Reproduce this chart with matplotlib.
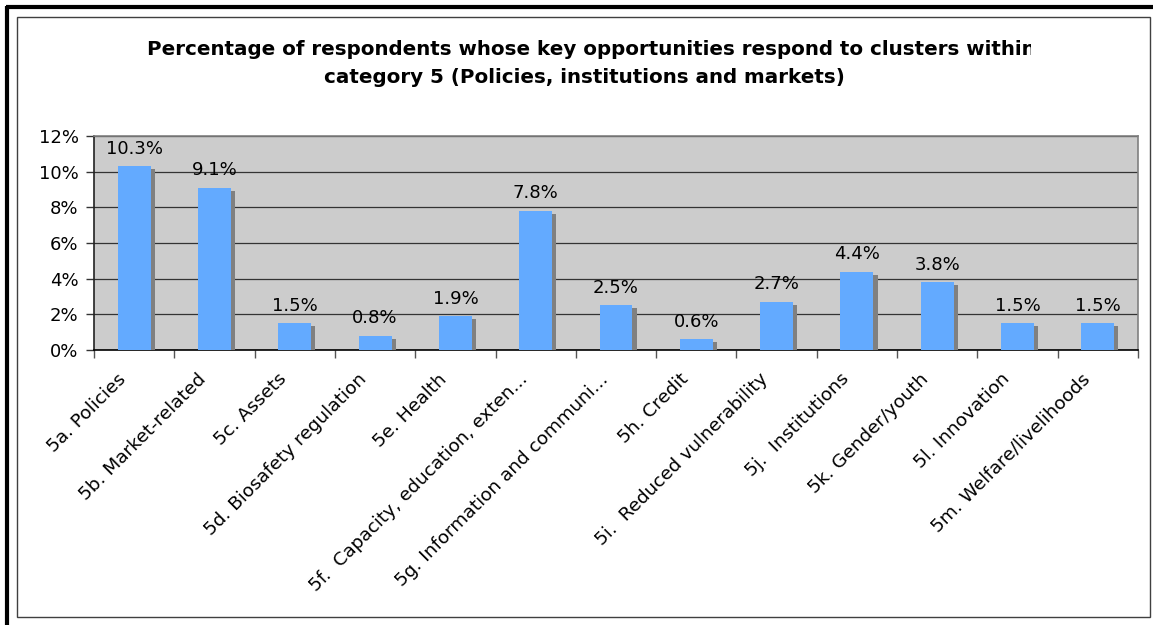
import matplotlib
matplotlib.use("Agg")
import matplotlib.pyplot as plt
import matplotlib.patheffects as pe
from matplotlib.ticker import PercentFormatter, MultipleLocator, FixedLocator
from matplotlib.transforms import Bbox, TransformedBbox, ScaledTranslation
from matplotlib.patches import Rectangle
from matplotlib.lines import Line2D
import numpy as np

categories = [
    "5a. Policies",
    "5b. Market-related",
    "5c. Assets",
    "5d. Biosafety regulation",
    "5e. Health",
    "5f.  Capacity, education, exten...",
    "5g. Information and communi...",
    "5h. Credit",
    "5i.  Reduced vulnerability",
    "5j.  Institutions",
    "5k. Gender/youth",
    "5l. Innovation",
    "5m. Welfare/livelihoods",
]
shares = [0.103, 0.091, 0.015, 0.008, 0.019, 0.078, 0.025,
          0.006, 0.027, 0.044, 0.038, 0.015, 0.015]

title_line1 = "Percentage of respondents whose key opportunities respond to clusters within"
title_line2 = "category 5 (Policies, institutions and markets)"

W, H = 1153, 625
fig = plt.figure(figsize=(W / 100, H / 100), dpi=100)
fig.patch.set_facecolor("white")

# chart area borders
fig.add_artist(Rectangle((17 / W, 1 - 617 / H), (1150 - 17) / W, (617 - 17) / H,
                         transform=fig.transFigure, fill=False,
                         edgecolor="#404040", lw=1.0))
fig.add_artist(Line2D([5.5 / W, 1], [1 - 7 / H, 1 - 7 / H], transform=fig.transFigure,
                      color="black", lw=3.0, solid_capstyle="butt"))
fig.add_artist(Line2D([7 / W, 7 / W], [0, 1 - 5.5 / H], transform=fig.transFigure,
                      color="black", lw=3.0, solid_capstyle="butt"))

ax = fig.add_axes([94 / W, 1 - 350 / H, (1138 - 94) / W, (350 - 136) / H])
ax.set_facecolor("#cccccc")

x = np.arange(len(categories))
bars = ax.bar(x, shares, width=0.41, color="#63aaff", zorder=3)
for b in bars:
    b.set_path_effects([
        pe.SimplePatchShadow(offset=(3.0, -2.2), shadow_rgbFace="#808080", alpha=1.0),
        pe.Normal(),
    ])

for xi, v in zip(x, shares):
    ax.annotate(f"{v:.1%}", (xi, v), xytext=(0, 9), textcoords="offset points",
                ha="center", va="baseline", fontsize=13, color="black", zorder=4)

ax.set_xlim(-0.5, len(categories) - 0.5)
ax.set_ylim(0, 0.12)
ax.yaxis.set_major_locator(MultipleLocator(0.02))
ax.yaxis.set_major_formatter(PercentFormatter(1.0, decimals=0))
ax.grid(axis="y", color="#333333", lw=0.9, zorder=1)
ax.set_axisbelow(True)

ax.spines["left"].set_color("#222222")
ax.spines["bottom"].set_color("black")
ax.spines["top"].set_color("#808080")
ax.spines["right"].set_color("#808080")
for s in ax.spines.values():
    s.set_linewidth(1.2)

ax.tick_params(axis="y", direction="out", length=6, width=1, color="#333333",
               labelsize=13, pad=5)

# category boundaries carry the tick marks, labels sit on the centres
ax.xaxis.set_minor_locator(FixedLocator(np.arange(-0.5, len(categories), 1.0)))
ax.tick_params(axis="x", which="minor", direction="out", length=6, width=1,
               color="#555555")
ax.set_xticks(x)
ax.set_xticklabels(categories, rotation=45, ha="right", va="center",
                   rotation_mode="anchor", fontsize=13.3)
ax.tick_params(axis="x", which="major", length=0, pad=19)
shift = ScaledTranslation(-11 / 100, 0, fig.dpi_scale_trans)
for lab in ax.get_xticklabels():
    lab.set_transform(lab.get_transform() + shift)

# title, first line is cut off by the title box
t1 = fig.text(591 / W, 1 - 55 / H, title_line1, ha="center", va="baseline",
              fontsize=14.3, fontweight="bold")
t1.set_clip_on(True)
t1.set_clip_box(TransformedBbox(Bbox.from_extents(0, 0, 1031 / W, 1), fig.transFigure))
fig.text(584 / W, 1 - 83 / H, title_line2, ha="center", va="baseline",
         fontsize=14.3, fontweight="bold")

fig.savefig("out.png", dpi=100)
